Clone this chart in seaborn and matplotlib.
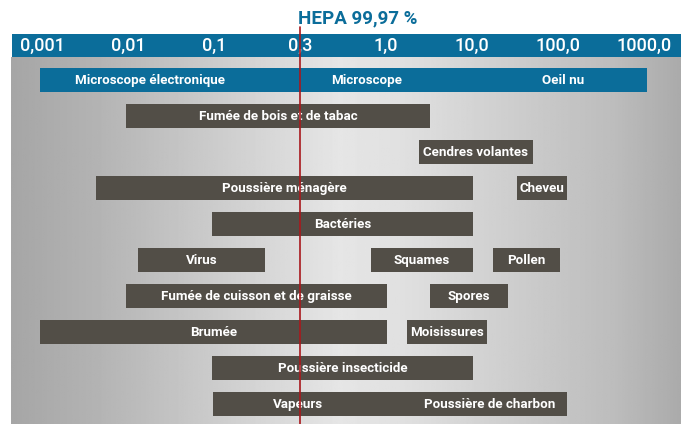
import numpy as np
import pandas as pd
import seaborn as sns
import matplotlib.pyplot as plt
import matplotlib.transforms as mtransforms

# size scale shown in the header (equally spaced positions 0..7)
scale_labels = ["0,001", "0,01", "0,1", "0,3", "1,0", "10,0", "100,0", "1000,0"]
hepa_pos = 3  # 0,3 micron
title = "HEPA 99,97 %"

# observation range band (row 0)
band_start, band_end = -0.02, 7.03
band_labels = ["Microscope électronique", "Microscope", "Oeil nu"]
band_label_pos = [1.26, 3.78, 6.06]

# particles: row, start, end (in scale positions)
particles = ["Fumée de bois et de tabac", "Cendres volantes", "Poussière ménagère", "Cheveu",
             "Bactéries", "Virus", "Squames", "Pollen",
             "Fumée de cuisson et de graisse", "Spores", "Brumée", "Moisissures",
             "Poussière insecticide", "Vapeurs / Poussière de charbon"]
rows = [1, 2, 3, 3, 4, 5, 5, 5, 6, 6, 7, 7, 8, 9]
starts = [0.98, 4.38, 0.63, 5.52, 1.98, 1.12, 3.83, 5.24, 0.98, 4.51, -0.02, 4.24, 1.98, 1.99]
ends = [4.51, 5.71, 5.01, 6.10, 5.01, 2.59, 5.01, 6.02, 4.01, 5.42, 4.01, 5.17, 5.01, 6.10]

# the last bar carries two labels
split_labels = ["Vapeurs", "Poussière de charbon"]
split_label_pos = [2.98, 5.21]

df = pd.DataFrame({"particle": particles, "row": rows, "start": starts, "end": ends})
df["width"] = df["end"] - df["start"]

sns.set_theme(style="white")
plt.rcParams["font.family"] = ["Roboto", "DejaVu Sans"]

BLUE = "#0b6d9a"
BAR = "#524e47"
RED = "#a8181c"
LABEL_KW = dict(color="white", ha="center", va="center", fontsize=9.6, fontweight="bold", zorder=4)

W, H = 681, 424
fig = plt.figure(figsize=(W / 100, H / 100), dpi=100)


def px_axes(x0, y0, x1, y1):
    return fig.add_axes([x0 / W, 1 - y1 / H, (x1 - x0) / W, (y1 - y0) / H])


def px_to_pos(x):
    return (x - 42) / 86.0


# gray gradient panel
ax = px_axes(11, 57, 681, 424)
xlim = (px_to_pos(11), px_to_pos(681))
ylim = ((424 - 80) / 36.0, (57 - 80) / 36.0)
xs = np.linspace(0, 1, 400)
shade = np.interp(xs, [0, 0.12, 0.49, 0.58, 0.9, 1], [0.65, 0.70, 0.90, 0.88, 0.74, 0.67])
ax.imshow(np.tile(shade, (2, 1)), cmap="gray", vmin=0, vmax=1, aspect="auto",
          extent=[*xlim, *ylim], zorder=0)
ax.set_xlim(*xlim)
ax.set_ylim(*ylim)

bar_h = 24 / 36.0
ax.barh(0, band_end - band_start, left=band_start, height=bar_h, color=BLUE,
        linewidth=0, zorder=2)
for lab, x in zip(band_labels, band_label_pos):
    ax.text(x, 0, lab, **LABEL_KW)

ax.barh(df["row"], df["width"], left=df["start"], height=bar_h, color=BAR,
        linewidth=0, zorder=2)
for _, r in df.iterrows():
    if r["particle"] == "Vapeurs / Poussière de charbon":
        for lab, x in zip(split_labels, split_label_pos):
            ax.text(x, r["row"], lab, **LABEL_KW)
    else:
        ax.text((r["start"] + r["end"]) / 2, r["row"], r["particle"], **LABEL_KW)
ax.axis("off")

# blue header with the size scale
hdr = px_axes(12, 34, 681, 57)
hdr.set_xlim(px_to_pos(12), px_to_pos(681))
hdr.set_ylim(0, 1)
hdr.set_facecolor(BLUE)
for i, lab in enumerate(scale_labels):
    hdr.text(i, 0.5, lab, color="white", ha="center", va="center", fontsize=13,
             fontweight="medium")
hdr.set_xticks([])
hdr.set_yticks([])
for s in hdr.spines.values():
    s.set_visible(False)

# HEPA line from the title down through the panel
trans = mtransforms.blended_transform_factory(ax.transData, fig.transFigure)
fig.add_artist(plt.Line2D([hepa_pos, hepa_pos], [0, 1 - 27 / H], transform=trans,
                          color=RED, linewidth=1.2, zorder=10))

fig.text(298 / W, 1 - 18 / H, title, color=BLUE, ha="left", va="center", fontsize=13.5,
         fontweight="bold")

fig.savefig("out.png", dpi=100, facecolor="white")
